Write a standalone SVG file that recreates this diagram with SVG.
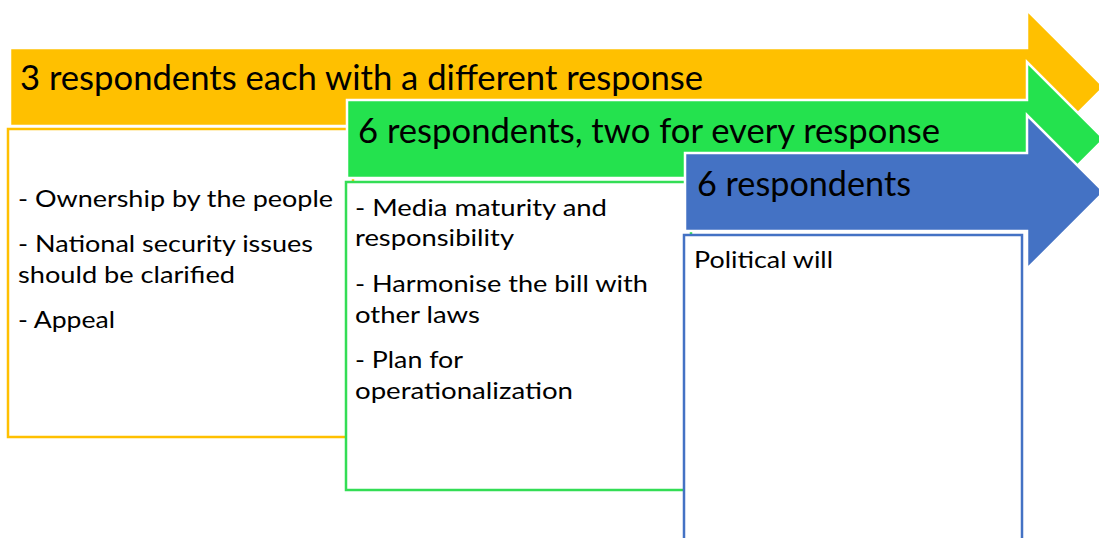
<svg xmlns="http://www.w3.org/2000/svg" width="1099" height="538" viewBox="0 0 1099 538">
<style>
.arrow{stroke:#FFFFFF;stroke-width:2.5;stroke-linejoin:miter}
.box{fill:#FFFFFF;stroke-width:2.5}
.hd{font-family:Lato,"Open Sans","Liberation Sans",sans-serif;font-size:34px;fill:#000000}
.bd{font-family:Lato,"Open Sans","Liberation Sans",sans-serif;font-size:23px;fill:#000000}
</style>
<rect width="1099" height="538" fill="#FFFFFF"/>
<g id="stage1">
<polygon class="arrow" fill="#FFC000" points="10,48 1027,48 1027,10 1104,87 1027,164 1027,126 10,126"/>
<text class="hd" x="20" y="90" textLength="683" lengthAdjust="spacingAndGlyphs">3 respondents each with a different response</text>
<rect class="box" stroke="#FFC000" x="8" y="129" width="345" height="308"/>
<text class="bd" x="18" y="207" textLength="315" lengthAdjust="spacingAndGlyphs">- Ownership by the people</text>
<text class="bd" x="18" y="252" textLength="295" lengthAdjust="spacingAndGlyphs">- National security issues</text>
<text class="bd" x="18" y="283" textLength="217" lengthAdjust="spacingAndGlyphs">should be clarified</text>
<text class="bd" x="18" y="328" textLength="97" lengthAdjust="spacingAndGlyphs">- Appeal</text>
</g>
<g id="stage2">
<polygon class="arrow" fill="#24E24E" points="347,100 1027,100 1027,62 1104,139 1027,216 1027,178 347,178"/>
<text class="hd" x="358" y="143" textLength="582" lengthAdjust="spacingAndGlyphs">6 respondents, two for every response</text>
<rect class="box" stroke="#33DD55" x="346" y="182" width="345" height="308"/>
<text class="bd" x="355" y="216" textLength="252" lengthAdjust="spacingAndGlyphs">- Media maturity and</text>
<text class="bd" x="355" y="246" textLength="159" lengthAdjust="spacingAndGlyphs">responsibility</text>
<text class="bd" x="355" y="292" textLength="293" lengthAdjust="spacingAndGlyphs">- Harmonise the bill with</text>
<text class="bd" x="355" y="323" textLength="125" lengthAdjust="spacingAndGlyphs">other laws</text>
<text class="bd" x="355" y="368" textLength="108" lengthAdjust="spacingAndGlyphs">- Plan for</text>
<text class="bd" x="355" y="399" textLength="218" lengthAdjust="spacingAndGlyphs">operationalization</text>
</g>
<g id="stage3">
<polygon class="arrow" fill="#4472C4" points="685,153 1027,153 1027,115 1104,192 1027,269 1027,231 685,231"/>
<text class="hd" x="697" y="196" textLength="214" lengthAdjust="spacingAndGlyphs">6 respondents</text>
<rect class="box" stroke="#4472C4" x="684" y="235" width="338" height="310"/>
<text class="bd" x="694" y="268" textLength="139" lengthAdjust="spacingAndGlyphs">Political will</text>
</g>
<g id="connectors"/>
</svg>
